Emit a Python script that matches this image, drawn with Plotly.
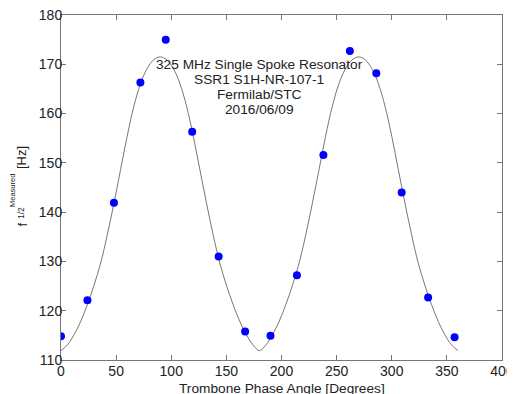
import plotly.graph_objects as go

# Measured points
phase_deg = [0, 24, 48, 72, 95, 119, 143, 167, 190, 214, 238, 262, 286, 309, 333, 357]
f_measured = [114.8, 122.1, 141.9, 166.3, 175.0, 156.3, 131.0, 115.8,
              114.9, 127.2, 151.6, 172.7, 168.2, 144.0, 122.7, 114.6]

# Fit curve
fit_phase = [0, 6, 12, 18, 24, 30, 36, 42, 48, 54, 60, 66, 72, 78, 84, 90,
             96, 102, 108, 114, 120, 126, 132, 138, 144, 150, 156, 162, 168, 174, 180,
             186, 192, 198, 204, 210, 216, 222, 228, 234, 240, 246, 252, 258, 264, 270,
             276, 282, 288, 294, 300, 306, 312, 318, 324, 330, 336, 342, 348, 354, 360]
fit_f = [111.9, 113.1, 115.2, 117.9, 121.3, 125.2, 129.7, 135.4, 141.8, 148.6, 155.4, 161.4, 166.0, 169.1, 170.9, 171.5,
         170.9, 169.1, 166.0, 161.4, 155.4, 148.6, 141.8, 135.4, 129.7, 125.2, 121.3, 117.9, 115.2, 113.1, 111.9,
         113.1, 115.2, 117.9, 121.3, 125.2, 129.7, 135.4, 141.8, 148.6, 155.4, 161.4, 166.0, 169.1, 170.9, 171.5,
         170.9, 169.1, 166.0, 161.4, 155.4, 148.6, 141.8, 135.4, 129.7, 125.2, 121.3, 117.9, 115.2, 113.1, 111.9]

x_ticks = [0, 50, 100, 150, 200, 250, 300, 350, 400]
y_ticks = [110, 120, 130, 140, 150, 160, 170, 180]

info_lines = ["325 MHz Single Spoke Resonator", "SSR1 S1H-NR-107-1", "Fermilab/STC", "2016/06/09"]

FONT = "Liberation Sans, Arial, sans-serif"

fig = go.Figure()
fig.add_trace(go.Scatter(x=fit_phase, y=fit_f, mode="lines", line=dict(color="#666666", width=0.9, shape="spline"),
                         showlegend=False, hoverinfo="skip"))
fig.add_trace(go.Scatter(x=phase_deg, y=f_measured, mode="markers",
                         marker=dict(color="#0000ff", size=8, line=dict(width=0)), showlegend=False))

axis_common = dict(showline=True, linecolor="#777777", linewidth=1, mirror="ticks", ticks="inside",
                   ticklen=5, tickcolor="#777777", showgrid=False, zeroline=False, automargin=False,
                   ticklabeloverflow="allow",
                   tickfont=dict(family=FONT, size=14, color="#222222"))

fig.update_xaxes(range=[0, 400], tickvals=x_ticks, ticktext=[str(v) for v in x_ticks],
                 ticklabelstandoff=-2, **axis_common)
fig.update_yaxes(range=[110, 180], tickvals=y_ticks, ticktext=[str(v) for v in y_ticks],
                 ticklabelstandoff=-5, **axis_common)

anns = []
for i, t in enumerate(info_lines):
    anns.append(dict(x=180, y=169.9 - i * 3.04, xref="x", yref="y", text=t, showarrow=False,
                     xanchor="center", yanchor="middle", font=dict(family=FONT, size=13.7, color="#222222")))

# plot area in page pixels: x 61..502, y 15..360
def px_to_paper_x(px):
    return (px - 61.0) / 441.0

def px_to_paper_y(py):
    return (360.0 - py) / 345.0

anns.append(dict(x=px_to_paper_x(282), y=px_to_paper_y(388), xref="paper", yref="paper",
                 text="Trombone Phase Angle [Degrees]", showarrow=False, xanchor="center", yanchor="middle",
                 font=dict(family=FONT, size=13.7, color="#222222")))
# y label pieces (stacked sub/superscript)
ylab = [("f", 21.5, 225, 13), ("Measured", 12, 191, 7.5), ("1/2", 21, 213, 8.5), ("[Hz]", 21.5, 157.5, 13)]
for t, px, py, sz in ylab:
    anns.append(dict(x=px_to_paper_x(px), y=px_to_paper_y(py), xref="paper", yref="paper", text=t,
                     showarrow=False, textangle=-90, xanchor="center", yanchor="middle",
                     font=dict(family=FONT, size=sz, color="#222222")))

# the page body has an 8px margin, so the figure is sized/margined to put the plot area
# at page pixels x 61..502, y 15..360
fig.update_layout(template="none", width=507, height=386,
                  margin=dict(l=53, r=13, t=7, b=34, autoexpand=False),
                  paper_bgcolor="white", plot_bgcolor="white", annotations=anns,
                  font=dict(family=FONT))

fig.write_html("out.html")
